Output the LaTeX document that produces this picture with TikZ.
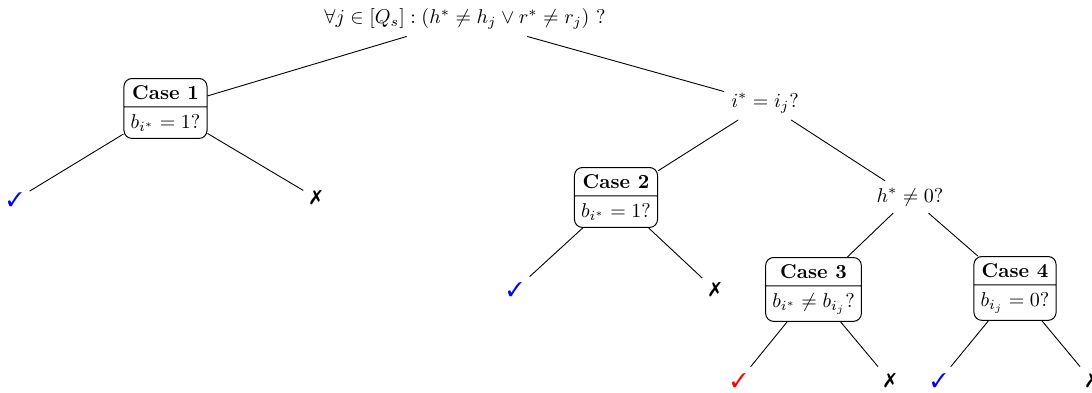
\documentclass[tikz,border=0pt]{standalone}
\usepackage{pifont}
\usetikzlibrary{shapes.multipart}
\tikzset{
  casebox/.style={draw, rounded corners=4pt, rectangle split, rectangle split parts=2, anchor=north, line width=0.5pt},
  question/.style={inner sep=0.3333em},
  leafyes/.style={text=blue},
  leafred/.style={text=red},
  leafno/.style={text=black},
  edge/.style={line width=0.45pt}
}
\newcommand{\cmark}{\ding{51}}
\newcommand{\xmark}{\ding{55}}
\begin{document}
\begin{tikzpicture}[x=0.5pt, y=-0.5pt]
\useasboundingbox (0,0) rectangle (1092,392);
% internal nodes
\node[question] (root) at (465,19) {$\forall j \in [Q_s] : (h^* \neq h_j \vee r^* \neq r_j)$ ?};
\node[casebox] (c1) at (165.5,78) {\textbf{Case 1}\nodepart{two}$b_{i^*}=1$?};
\node[question] (ij) at (765,103) {$i^* = i_j$?};
\node[casebox] (c2) at (616,167) {\textbf{Case 2}\nodepart{two}$b_{i^*}=1$?};
\node[question] (h) at (910,197) {$h^* \neq 0$?};
\node[casebox] (c3) at (813.5,257) {\textbf{Case 3}\nodepart{two}$b_{i^*}\neq b_{i_j}$?};
\node[casebox] (c4) at (1015,256) {\textbf{Case 4}\nodepart{two}$b_{i_j}=0$?};
% leaves
\node[leafyes] (l1a) at (15,200) {\cmark};
\node[leafno]  (l1b) at (316,198) {\xmark};
\node[leafyes] (l2a) at (515,290) {\cmark};
\node[leafno]  (l2b) at (715,290) {\xmark};
\node[leafred] (l3a) at (739,381) {\cmark};
\node[leafno]  (l3b) at (890,381) {\xmark};
\node[leafyes] (l4a) at (939,381) {\cmark};
\node[leafno]  (l4b) at (1092,381) {\xmark};
% edges
\draw[edge] (root) -- (c1);
\draw[edge] (root) -- (ij);
\draw[edge] (c1) -- (l1a);
\draw[edge] (c1) -- (l1b);
\draw[edge] (ij) -- (c2);
\draw[edge] (ij) -- (h);
\draw[edge] (c2) -- (l2a);
\draw[edge] (c2) -- (l2b);
\draw[edge] (h) -- (c3);
\draw[edge] (h) -- (c4);
\draw[edge] (c3) -- (l3a);
\draw[edge] (c3) -- (l3b);
\draw[edge] (c4) -- (l4a);
\draw[edge] (c4) -- (l4b);
\end{tikzpicture}
\end{document}
